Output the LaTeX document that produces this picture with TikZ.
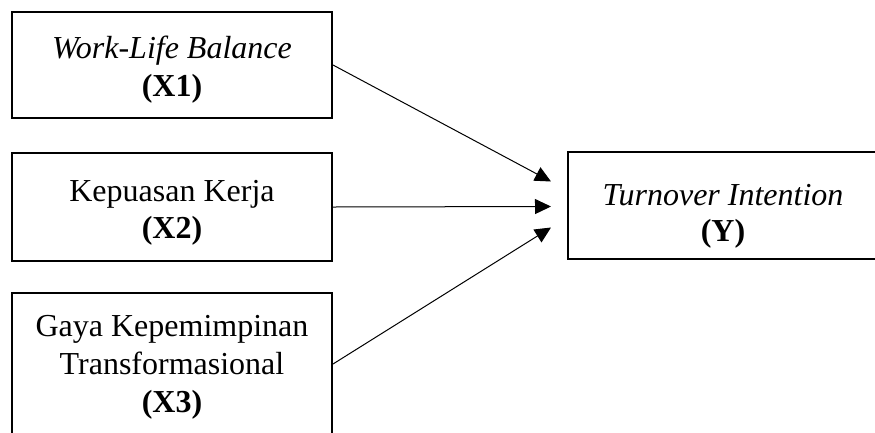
\documentclass[tikz,border=0pt]{standalone}
\usepackage{fontspec}
\setmainfont{Liberation Serif}
\usetikzlibrary{arrows.meta,calc}
\begin{document}
\begin{tikzpicture}[x=1pt,y=-1pt,
  box/.style={draw, line width=2pt, inner sep=0pt},
  lbl/.style={anchor=base, inner sep=0pt, font=\fontsize{32}{38}\selectfont},
  conn/.style={line width=1pt, -{Triangle[length=16pt,width=15pt]}}]
\useasboundingbox (0,0) rectangle (875,432);
\clip (0,0) rectangle (875,432);
% boxes
\node[box, minimum width=320pt, minimum height=106pt] (x1) at (172,65) {};
\node[box, minimum width=320pt, minimum height=108pt] (x2) at (172,207) {};
\node[box, minimum width=320pt, minimum height=142pt] (x3) at (172,364) {};
\node[box, minimum width=310pt, minimum height=107pt] (y) at (723,205.5) {};
% labels
\node[lbl] (t1a) at (172,58) {\itshape Work-Life Balance};
\node[lbl] (t1b) at (172,96) {\bfseries (X1)};
\node[lbl] (t2a) at (172,201) {Kepuasan Kerja};
\node[lbl] (t2b) at (172,238.5) {\bfseries (X2)};
\node[lbl] (t3a) at (172,336.5) {Gaya Kepemimpinan};
\node[lbl] (t3b) at (172,374.5) {Transformasional};
\node[lbl] (t3c) at (172,412) {\bfseries (X3)};
\node[lbl] (tya) at (723,205) {\itshape Turnover Intention};
\node[lbl] (tyb) at (723,241) {\bfseries (Y)};
% arrow ends
\coordinate (e1) at ($(y.west)+(-16,-24)$);
\coordinate (e2) at ($(y.west)+(-16,1)$);
\coordinate (e3) at ($(y.west)+(-16,22)$);
\draw[conn] (x1.east) -- (e1);
\draw[conn] (x2.east) -- (e2);
\draw[conn] (x3.east) -- (e3);
\end{tikzpicture}
\end{document}
